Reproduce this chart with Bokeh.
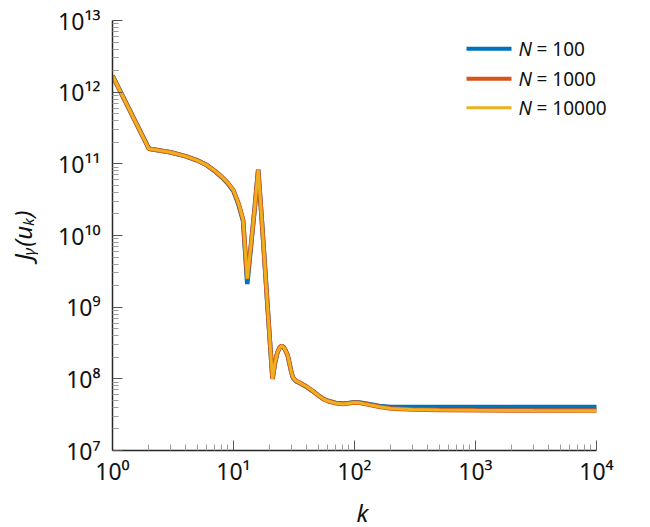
from bokeh.plotting import figure
from bokeh.models import (Range1d, FixedTicker, CustomJSTickFormatter, Label,
                          BoxAnnotation, ColumnDataSource)
from bokeh.embed import file_html
from bokeh.resources import INLINE

# ---------------- data ----------------
k = [1, 2, 3, 4, 5, 6, 7, 8, 9, 10, 11, 12, 13, 14, 15, 16, 17, 18, 19, 20,
     21, 22, 23, 24, 25, 26, 27, 28, 29, 30, 31, 32, 33, 35, 40, 45, 50, 55,
     60, 70, 80, 90, 100, 110, 130, 160, 200, 300, 500, 1000, 3000, 10000]

J_N10000 = [1.70e12, 1.62e11, 1.45e11, 1.28e11, 1.12e11, 9.6e10, 8.0e10, 6.6e10,
            5.4e10, 4.25e10, 2.8e10, 1.66e10, 2.5e9, 7.9e9, 2.5e10, 8.3e10, 2.0e10,
            4.8e9, 1.2e9, 3.3e8, 1.0e8, 1.66e8, 2.3e8, 2.7e8, 2.9e8, 2.75e8, 2.45e8,
            2.15e8, 1.66e8, 1.26e8, 1.05e8, 9.8e7, 9.3e7, 8.9e7, 7.8e7, 6.8e7,
            5.9e7, 5.25e7, 4.9e7, 4.57e7, 4.47e7, 4.57e7, 4.68e7, 4.62e7, 4.37e7,
            4.07e7, 3.85e7, 3.72e7, 3.67e7, 3.63e7, 3.61e7, 3.60e7]

J_N1000 = [1.70e12, 1.62e11, 1.45e11, 1.28e11, 1.12e11, 9.6e10, 8.0e10, 6.6e10,
           5.4e10, 4.25e10, 2.8e10, 1.66e10, 2.45e9, 7.9e9, 2.5e10, 8.3e10, 2.0e10,
           4.8e9, 1.2e9, 3.3e8, 1.0e8, 1.66e8, 2.3e8, 2.7e8, 2.9e8, 2.75e8, 2.45e8,
           2.15e8, 1.66e8, 1.26e8, 1.05e8, 9.8e7, 9.3e7, 8.9e7, 7.8e7, 6.8e7,
           5.9e7, 5.25e7, 4.9e7, 4.57e7, 4.47e7, 4.57e7, 4.68e7, 4.62e7, 4.38e7,
           4.08e7, 3.86e7, 3.73e7, 3.68e7, 3.64e7, 3.62e7, 3.61e7]

J_N100 = [1.70e12, 1.62e11, 1.45e11, 1.28e11, 1.12e11, 9.6e10, 7.9e10, 6.5e10,
          5.3e10, 4.15e10, 2.7e10, 1.6e10, 2.1e9, 7.6e9, 2.5e10, 8.3e10, 2.0e10,
          4.8e9, 1.2e9, 3.3e8, 1.0e8, 1.66e8, 2.3e8, 2.7e8, 2.9e8, 2.75e8, 2.45e8,
          2.13e8, 1.64e8, 1.25e8, 1.04e8, 9.7e7, 9.2e7, 8.8e7, 7.75e7, 6.75e7,
          5.9e7, 5.28e7, 4.95e7, 4.62e7, 4.52e7, 4.62e7, 4.73e7, 4.68e7, 4.45e7,
          4.17e7, 4.06e7, 4.03e7, 4.03e7, 4.03e7, 4.03e7, 4.03e7]

series_labels = ["100", "1000", "10000"]
series_colors = ["#0072BD", "#D95319", "#EDB120"]

x_ticks = [1, 10, 100, 1000, 10000]
y_ticks = [1e7, 1e8, 1e9, 1e10, 1e11, 1e12, 1e13]

FONT = "Noto Sans"

# frame is a little wider than the x axis so the legend text is not clipped
x_end = 10 ** (4 + 16 / 121.0)

# ---------------- figure ----------------
p = figure(x_axis_type="log", y_axis_type="log",
           x_range=Range1d(1, x_end), y_range=Range1d(1e7, 1e13),
           frame_width=500, frame_height=430,
           min_border_left=112, min_border_right=36,
           min_border_top=20, min_border_bottom=75,
           output_backend="svg", toolbar_location=None)

p.outline_line_color = None
p.xgrid.visible = False
p.ygrid.visible = False
p.background_fill_color = "white"
p.border_fill_color = "white"

def minor_of(ticks):
    out = []
    for t in ticks[:-1]:
        for m in range(2, 10):
            out.append(t * m)
    return out

p.xaxis.ticker = FixedTicker(ticks=x_ticks, minor_ticks=minor_of(x_ticks))
p.yaxis.ticker = FixedTicker(ticks=y_ticks, minor_ticks=minor_of(y_ticks))
p.xaxis.bounds = (x_ticks[0], x_ticks[-1])

fmt_code = """
const sup = {"0":"\u2070","1":"\u00b9","2":"\u00b2","3":"\u00b3","4":"\u2074",
             "5":"\u2075","6":"\u2076","7":"\u2077","8":"\u2078","9":"\u2079","-":"\u207b"};
const e = Math.round(Math.log10(tick));
return "10" + String(e).split("").map(c => sup[c]).join("");
"""
for ax in (p.xaxis[0], p.yaxis[0]):
    ax.formatter = CustomJSTickFormatter(code=fmt_code)
    ax.axis_line_color = "#262626"
    ax.axis_line_width = 1.5
    ax.major_tick_in = 10
    ax.major_tick_out = 0
    ax.minor_tick_in = 6
    ax.minor_tick_out = 0
    ax.major_tick_line_color = "#555555"
    ax.minor_tick_line_color = "#9a9a9a"
    ax.major_label_text_font = FONT
    ax.major_label_text_font_size = "23px"
    ax.major_label_text_color = "#111111"
    ax.axis_label_text_font = FONT
    ax.axis_label_text_font_style = "italic"
    ax.axis_label_text_font_size = "24px"
    ax.axis_label_text_color = "#111111"

p.xaxis.axis_label = "k"
p.xaxis.major_label_standoff = 4
p.xaxis.axis_label_standoff = 6
p.yaxis.axis_label = "J\u1d67(u\u2096)"
p.yaxis.major_label_standoff = 12
p.yaxis.axis_label_standoff = 16

src = ColumnDataSource(dict(k=k, n100=J_N100, n1000=J_N1000, n10000=J_N10000))
widths = [4.5, 4.5, 3]
for col, color, w in zip(["n100", "n1000", "n10000"], series_colors, widths):
    p.line("k", col, source=src, line_color=color, line_width=w)

# ---------------- legend (manual, frame screen units) ----------------
leg_y = [401.7, 371.7, 342.7]
leg_w = [4, 4, 3]
for lab, color, y, w in zip(series_labels, series_colors, leg_y, leg_w):
    p.add_layout(BoxAnnotation(left=354, right=399, bottom=y - w / 2, top=y + w / 2,
                               left_units="screen", right_units="screen",
                               bottom_units="screen", top_units="screen",
                               fill_color=color, fill_alpha=1.0, line_color=None))
    p.add_layout(Label(x=406, y=y, x_units="screen", y_units="screen", text="N",
                       text_font=FONT, text_font_style="italic", text_font_size="19px",
                       text_baseline="middle", text_color="#111111"))
    p.add_layout(Label(x=424, y=y, x_units="screen", y_units="screen", text="= " + lab,
                       text_font=FONT, text_font_size="19px",
                       text_baseline="middle", text_color="#111111"))

with open("out.html", "w", encoding="utf-8") as f:
    f.write(file_html(p, INLINE))
